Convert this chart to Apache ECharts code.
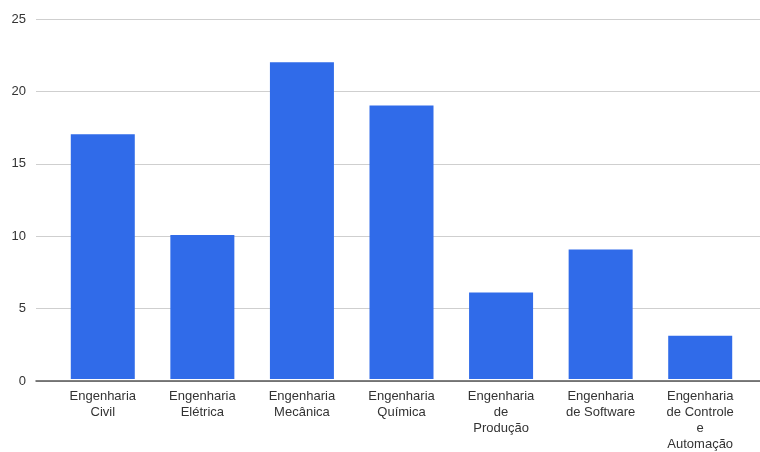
<!DOCTYPE html>
<html lang="pt">
  <head>
    <meta charset="utf-8">
    <title>engenharias</title>
    <script src="https://cdn.jsdelivr.net/npm/echarts@6/dist/echarts.min.js"></script>
    <style>
      html, body { margin: 0; padding: 0; background: #fff; }
      #chart { width: 760px; height: 452px; }
    </style>
  </head>
  <body>
    <div id="chart"></div>
    <script>
      // dados
      var cursos = [
        "Engenharia\nCivil",
        "Engenharia\nElétrica",
        "Engenharia\nMecânica",
        "Engenharia\nQuímica",
        "Engenharia\nde\nProdução",
        "Engenharia\nde Software",
        "Engenharia\nde Controle\ne\nAutomação"
      ];
      var alunos = [17, 10, 22, 19, 6, 9, 3];
      var yTicks = { min: 0, max: 25, interval: 5 };

      var fonte = "Liberation Sans, Arial, sans-serif";

      var myChart = echarts.init(document.getElementById("chart"));
      myChart.setOption({
        animation: false,
        grid: [
          // grade larga: linhas de grade, rótulos do eixo y e linha de base
          { left: 36, right: 0, top: 19, bottom: 71 },
          // grade das barras
          { left: 53, right: 10, top: 19, bottom: 71 }
        ],
        xAxis: [
          {
            gridIndex: 0,
            type: "category",
            data: cursos,
            axisTick: { show: false },
            axisLabel: { show: false },
            axisLine: { lineStyle: { color: "#555", width: 1.5 } }
          },
          {
            gridIndex: 1,
            type: "category",
            data: cursos,
            axisTick: { show: false },
            axisLine: { show: false },
            axisLabel: {
              interval: 0,
              margin: 9,
              color: "#333",
              fontFamily: fonte,
              fontSize: 13,
              lineHeight: 16
            }
          }
        ],
        yAxis: [
          {
            gridIndex: 0,
            type: "value",
            min: yTicks.min,
            max: yTicks.max,
            interval: yTicks.interval,
            axisLine: { show: false },
            axisTick: { show: false },
            splitLine: { lineStyle: { color: "#cfcfcf", width: 1 } },
            axisLabel: {
              margin: 10,
              color: "#333",
              fontFamily: fonte,
              fontSize: 13
            }
          },
          {
            gridIndex: 1,
            type: "value",
            min: yTicks.min,
            max: yTicks.max,
            interval: yTicks.interval,
            axisLine: { show: false },
            axisTick: { show: false },
            splitLine: { show: false },
            axisLabel: { show: false }
          }
        ],
        series: [{
          type: "bar",
          xAxisIndex: 1,
          yAxisIndex: 1,
          data: alunos,
          barWidth: 64,
          itemStyle: { color: "#306be9" }
        }]
      });
    </script>
  </body>
</html>
